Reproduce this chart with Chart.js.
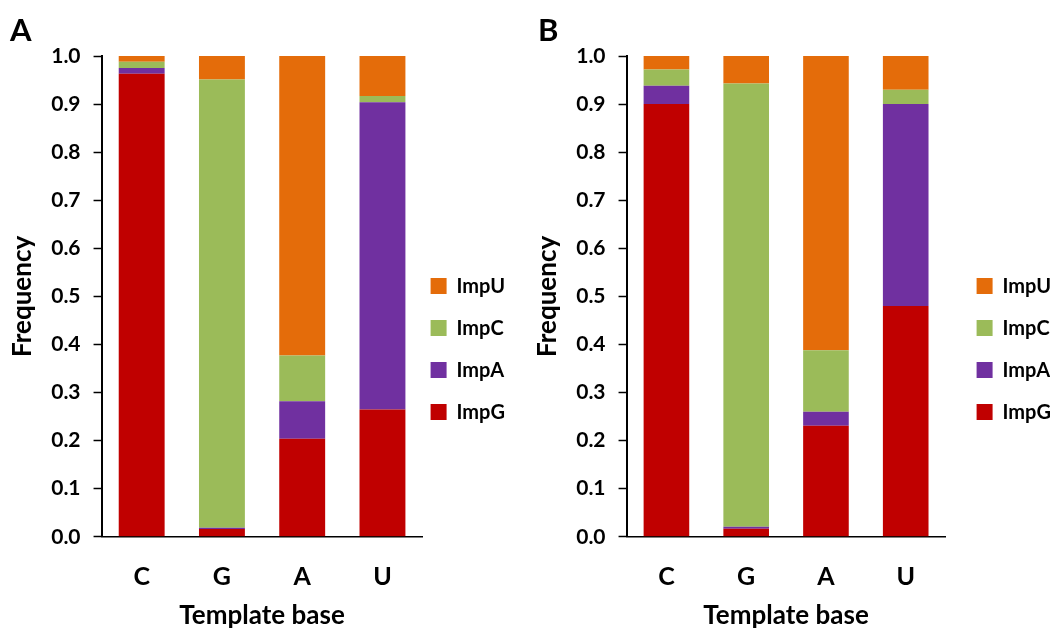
<!DOCTYPE html>
<html>
<head>
<meta charset="utf-8">
<script src="https://cdn.jsdelivr.net/npm/chart.js@4"></script>
<style>
  body { margin: 0; background: #fff; }
  #wrap { position: relative; width: 1050px; height: 629px; }
  canvas { position: absolute; top: 0; }
  .panel { position: absolute; top: 10px; font: bold 31px Lato, sans-serif; color: #000; }
</style>
</head>
<body>
<div id="wrap">
  <canvas id="chartA" width="525" height="629" style="left:0"></canvas>
  <canvas id="chartB" width="525" height="629" style="left:525px"></canvas>
  <div class="panel" style="left:10px">A</div>
  <div class="panel" style="left:538px">B</div>
</div>
<script>
var bases = ["C", "G", "A", "U"];
var seriesNames = ["ImpG", "ImpA", "ImpC", "ImpU"];
var seriesColors = ["#C00000", "#7030A0", "#9BBB59", "#E46C0A"];
var yTicks = [0, 0.1, 0.2, 0.3, 0.4, 0.5, 0.6, 0.7, 0.8, 0.9, 1.0];

// panel A
var impG_A = [0.963, 0.016, 0.204, 0.265];
var impA_A = [0.012, 0.003, 0.078, 0.639];
var impC_A = [0.013, 0.932, 0.095, 0.013];
var impU_A = [0.012, 0.049, 0.623, 0.083];

// panel B
var impG_B = [0.900, 0.017, 0.231, 0.480];
var impA_B = [0.038, 0.004, 0.029, 0.420];
var impC_B = [0.034, 0.922, 0.128, 0.030];
var impU_B = [0.028, 0.057, 0.612, 0.070];

var fontFamily = "Lato, 'Open Sans', sans-serif";

// nudge the legend sideways after layout (chart area stays put)
var legendShift = {
  id: "legendShift",
  afterLayout: function (chart, args, opts) {
    chart.legend.left += opts.dx;
    chart.legend.right += opts.dx;
  },
};

function makeChart(id, values, padLeft, padRight, legendDx) {
  var ctx = document.getElementById(id).getContext("2d");
  var datasets = values.map(function (v, i) {
    return {
      label: seriesNames[i],
      data: v,
      backgroundColor: seriesColors[i],
      borderWidth: 0,
      barPercentage: 0.572,
      categoryPercentage: 1.0,
    };
  });
  return new Chart(ctx, {
    type: "bar",
    data: { labels: bases, datasets: datasets },
    plugins: [legendShift],
    options: {
      responsive: false,
      animation: false,
      layout: { padding: { top: 56, left: padLeft, right: padRight, bottom: 0 } },
      plugins: {
        tooltip: { enabled: false },
        legendShift: { dx: legendDx },
        legend: {
          position: "right",
          reverse: true,
          title: { display: true, text: "", font: { size: 11 }, padding: 0 },
          labels: {
            boxWidth: 16,
            boxHeight: 16,
            padding: 22,
            color: "#000",
            font: { family: fontFamily, size: 20, weight: "bold" },
          },
        },
      },
      scales: {
        x: {
          stacked: true,
          grid: { display: false, drawTicks: false },
          border: { display: true, color: "#000", width: 1.5 },
          ticks: {
            color: "#000",
            padding: 25,
            font: { family: fontFamily, size: 25, weight: "bold" },
          },
          title: {
            display: true,
            text: "Template base",
            color: "#000",
            padding: { top: -17, bottom: -2 },
            font: { family: fontFamily, size: 26, weight: "bold" },
          },
        },
        y: {
          stacked: true,
          min: 0,
          max: 1,
          afterBuildTicks: function (axis) {
            axis.ticks = yTicks.map(function (t) { return { value: t }; });
          },
          grid: {
            drawOnChartArea: false,
            drawTicks: true,
            tickLength: 8,
            tickColor: "#000",
            tickWidth: 1.5,
          },
          border: { display: true, color: "#000", width: 2 },
          ticks: {
            color: "#000",
            padding: 13,
            font: { family: fontFamily, size: 21, weight: "bold" },
            callback: function (v) { return Number(v).toFixed(1); },
          },
          title: {
            display: true,
            text: "Frequency",
            color: "#000",
            padding: 0,
            font: { family: fontFamily, size: 26, weight: "bold" },
          },
        },
      },
    },
  });
}

makeChart("chartA", [impG_A, impA_A, impC_A, impU_A], 7, -4, -14);
makeChart("chartB", [impG_B, impA_B, impC_B, impU_B], 7, -2, 9);
</script>
</body>
</html>
